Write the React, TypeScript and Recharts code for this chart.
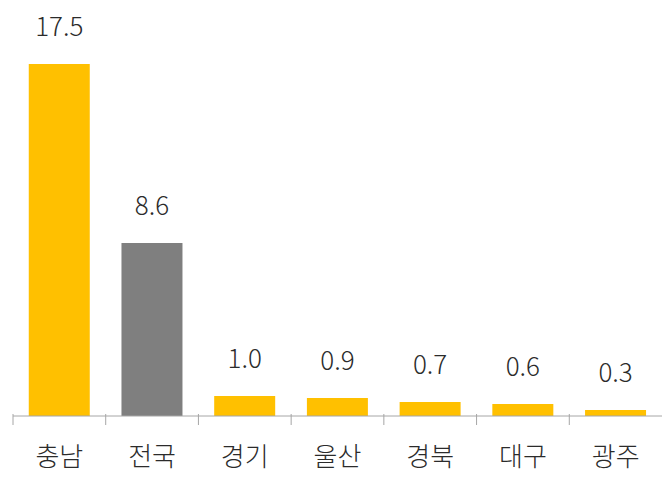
import React from 'react';
import { Bar, BarChart, Cell, LabelList, XAxis, YAxis } from 'recharts';

const regions = ['충남', '전국', '경기', '울산', '경북', '대구', '광주'];
const growth = [17.5, 8.6, 1.0, 0.9, 0.7, 0.6, 0.3];
const highlight = '전국';

const data = regions.map((name, i) => ({ name, value: growth[i] }));

const FONT = '"Noto Sans CJK KR", "Noto Sans", sans-serif';

const CategoryTick = (props: any) => {
  const { x, y, payload } = props;
  const half = payload && payload.offset ? payload.offset : 46.35;
  return (
    <g>
      <line x1={x - half} y1={y - 10} x2={x - half} y2={y + 1} stroke="#a6a6a6" strokeWidth={1} />
      <text
        x={x}
        y={y + 42}
        textAnchor="middle"
        fontSize={26}
        fontWeight={300}
        fill="#2b2b2b"
        fontFamily={FONT}
      >
        {payload.value}
      </text>
    </g>
  );
};

const App: React.FC = () => {
  return (
    <div style={{ position: 'absolute', left: 0, top: 0, background: '#fff' }}>
      <BarChart
        width={668}
        height={480}
        data={data}
        margin={{ top: 64, right: 6, bottom: 0, left: 13 }}
        barCategoryGap="17%"
      >
        <XAxis
          dataKey="name"
          height={64}
          axisLine={{ stroke: '#a6a6a6' }}
          tickLine={false}
          tick={<CategoryTick />}
          interval={0}
        />
        <YAxis hide domain={[0, 17.5]} />
        <Bar dataKey="value" isAnimationActive={false}>
          {data.map((d) => (
            <Cell key={d.name} fill={d.name === highlight ? '#7f7f7f' : '#ffc000'} />
          ))}
          <LabelList
            dataKey="value"
            position="top"
            offset={28}
            formatter={(v: any) => Number(v).toFixed(1)}
            style={{ fontSize: 26, fontWeight: 300, fill: '#2b2b2b', fontFamily: FONT }}
          />
        </Bar>
      </BarChart>
    </div>
  );
};

export default App;
